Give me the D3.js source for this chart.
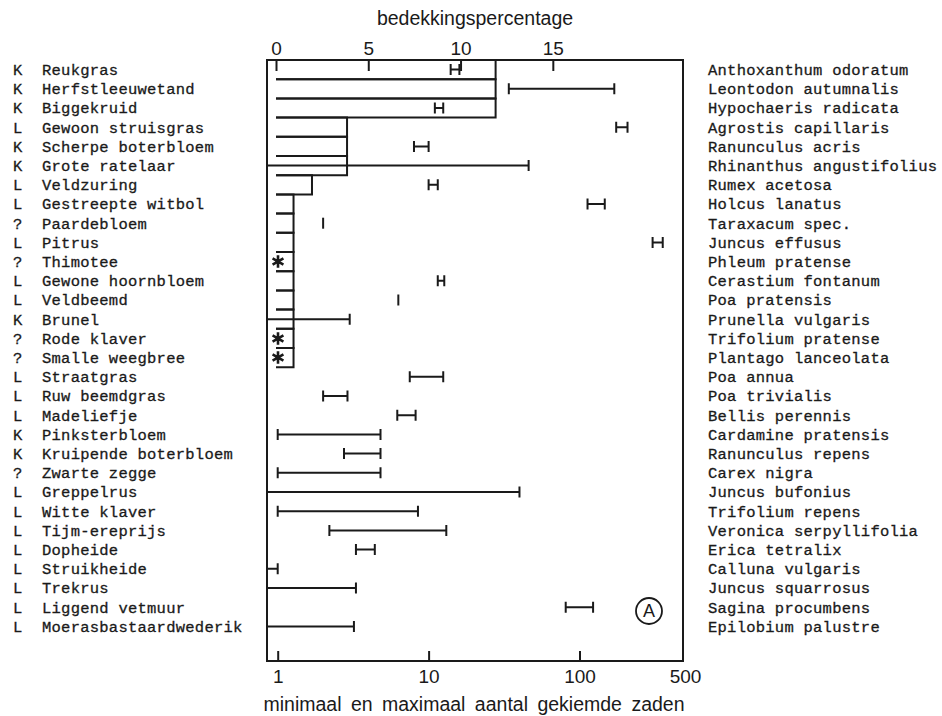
<!DOCTYPE html>
<html>
<head>
<meta charset="utf-8">
<script src="https://cdn.jsdelivr.net/npm/d3@7"></script>
<style>
  body { margin: 0; background: #fff; }
  svg { display: block; }
  .mono { font-family: "Liberation Mono", "Courier New", monospace; font-size: 15.5px; letter-spacing: 0.25px; fill: #1a1a1a; stroke: #1a1a1a; stroke-width: 0.3px; }
  .sans { font-family: "Liberation Sans", Arial, Helvetica, sans-serif; fill: #1a1a1a; }
</style>
</head>
<body>
<svg id="chart" width="942" height="716"></svg>
<script>
// letter code per species (K / L / ?)
const codes = ['K','K','K','L','K','K','L','L','?','L','?','L','L','K','?','?','L','L','L','K','K','?','L','L','L','L','L','L','L','L']

const dutchNames = [
  'Reukgras', 'Herfstleeuwetand', 'Biggekruid', 'Gewoon struisgras', 'Scherpe boterbloem',
  'Grote ratelaar', 'Veldzuring', 'Gestreepte witbol', 'Paardebloem', 'Pitrus',
  'Thimotee', 'Gewone hoornbloem', 'Veldbeemd', 'Brunel', 'Rode klaver',
  'Smalle weegbree', 'Straatgras', 'Ruw beemdgras', 'Madeliefje', 'Pinksterbloem',
  'Kruipende boterbloem', 'Zwarte zegge', 'Greppelrus', 'Witte klaver', 'Tijm-ereprijs',
  'Dopheide', 'Struikheide', 'Trekrus', 'Liggend vetmuur', 'Moerasbastaardwederik',
]

const latinNames = [
  'Anthoxanthum odoratum', 'Leontodon autumnalis', 'Hypochaeris radicata', 'Agrostis capillaris', 'Ranunculus acris',
  'Rhinanthus angustifolius', 'Rumex acetosa', 'Holcus lanatus', 'Taraxacum spec.', 'Juncus effusus',
  'Phleum pratense', 'Cerastium fontanum', 'Poa pratensis', 'Prunella vulgaris', 'Trifolium pratense',
  'Plantago lanceolata', 'Poa annua', 'Poa trivialis', 'Bellis perennis', 'Cardamine pratensis',
  'Ranunculus repens', 'Carex nigra', 'Juncus bufonius', 'Trifolium repens', 'Veronica serpyllifolia',
  'Erica tetralix', 'Calluna vulgaris', 'Juncus squarrosus', 'Sagina procumbens', 'Epilobium palustre',
]

// bedekkingspercentage (0 = not present in vegetation)
const coverage = [11.9, 11.9, 11.9, 3.85, 3.85, 3.85, 1.95, 0.95, 0.95, 0.95,
  0.95, 0.95, 0.95, 0.95, 0.95, 0.95, 0, 0, 0, 0,
  0, 0, 0, 0, 0, 0, 0, 0, 0, 0]

// species marked with an asterisk inside the bar
const asterisk = ['Thimotee', 'Rode klaver', 'Smalle weegbree']

// min / max number of germinated seeds (null = none, 0 = runs off the left edge)
const seedMin = [14, 34, 11, 175, 8, 0, 10, 113, 2, 305,
  null, 11.5, 6.3, 0, null, null, 7.5, 2, 6.2, 1,
  2.75, 1, 0, 1, 2.2, 3.3, 0, 0, 81, 0]
const seedMax = [16, 170, 12.5, 208, 10, 46, 11.5, 147, 2, 356,
  null, 12.7, 6.3, 3, null, null, 12.5, 2.9, 8.2, 4.8,
  4.8, 4.8, 40, 8.5, 13.1, 4.4, 1, 3.3, 123, 3.2]

const coverageTicks = [0, 5, 10, 15]
const seedTicks = [1, 10, 100, 500]

const ink = '#1a1a1a'
const frame = { left: 267, right: 683, top: 60, bottom: 661 }
const rowH = 19.2

const svg = d3.select('#chart')

const y = d3.scaleBand()
  .domain(dutchNames)
  .range([frame.top, frame.top + rowH * dutchNames.length])

const xCover = d3.scaleLinear().domain([0, 22]).range([276, 682])
const xSeed = d3.scaleLog().domain([1, 500]).range([277.7, 685])

const rows = dutchNames.map((name, i) => ({
  name, code: codes[i], latin: latinNames[i], cover: coverage[i],
  min: seedMin[i], max: seedMax[i],
}))

// frame
svg.append('rect')
  .attr('x', frame.left).attr('y', frame.top)
  .attr('width', frame.right - frame.left).attr('height', frame.bottom - frame.top)
  .attr('fill', 'none').attr('stroke', ink).attr('stroke-width', 2)

// coverage bars: open boxes (top, right, bottom)
const bars = svg.append('g').attr('stroke', ink).attr('stroke-width', 2).attr('fill', 'none')
bars.selectAll('path')
  .data(rows.filter((d) => d.cover > 0))
  .join('path')
  .attr('d', (d) => {
    const x0 = xCover(0), x1 = xCover(d.cover)
    const y0 = y(d.name), y1 = y0 + y.bandwidth()
    return `M${x0},${y0}H${x1}V${y1}H${x0}`
  })

// asterisks
svg.append('g').selectAll('path')
  .data(rows.filter((d) => asterisk.includes(d.name)))
  .join('path')
  .attr('transform', (d) => `translate(${xCover(0) + 2},${y(d.name) + y.bandwidth() / 2})`)
  .attr('d', d3.symbol(d3.symbolAsterisk, 110))
  .attr('fill', 'none').attr('stroke', ink).attr('stroke-width', 2.6)

// seed ranges
const seedX = (v) => (v === 0 ? frame.left : xSeed(v))
const capH = 5.5
const whisk = svg.append('g').attr('stroke', ink).attr('stroke-width', 2).attr('fill', 'none')
whisk.selectAll('path')
  .data(rows.filter((d) => d.max != null))
  .join('path')
  .attr('d', (d) => {
    const cy = y(d.name) + y.bandwidth() / 2
    const x0 = seedX(d.min), x1 = seedX(d.max)
    let p = `M${x0},${cy}H${x1}M${x1},${cy - capH}V${cy + capH}`
    if (d.min > 0 && d.min !== d.max) p += `M${x0},${cy - capH}V${cy + capH}`
    return p
  })

// top axis (coverage)
const topAxis = svg.append('g')
  .attr('transform', `translate(0,${frame.top})`)
  .call(d3.axisTop(xCover).tickValues(coverageTicks).tickSize(-11).tickPadding(5))
topAxis.select('.domain').remove()
topAxis.selectAll('line').attr('stroke', ink).attr('stroke-width', 2)
topAxis.selectAll('text').attr('font-size', 19).attr('fill', ink)
  .attr('font-family', '"Liberation Sans", Arial, sans-serif')

// bottom axis (seeds, log)
const botAxis = svg.append('g')
  .attr('transform', `translate(0,${frame.bottom})`)
  .call(d3.axisBottom(xSeed).tickValues(seedTicks).tickFormat(d3.format('d')).tickSize(-10).tickPadding(9))
botAxis.select('.domain').remove()
botAxis.selectAll('line').attr('stroke', ink).attr('stroke-width', 2)
  .filter((d) => d === 500).remove() // sits on the frame edge
botAxis.selectAll('text').attr('font-size', 19).attr('fill', ink)
  .attr('font-family', '"Liberation Sans", Arial, sans-serif')

// axis titles
svg.append('text').attr('class', 'sans')
  .attr('x', 475).attr('y', 25).attr('text-anchor', 'middle').attr('font-size', 19.5)
  .text('bedekkingspercentage')
svg.append('text').attr('class', 'sans')
  .attr('x', 474).attr('y', 711).attr('text-anchor', 'middle').attr('font-size', 19.5)
  .attr('word-spacing', 4)
  .text('minimaal en maximaal aantal gekiemde zaden')

// row labels
const labels = svg.append('g').attr('class', 'mono')
const rowY = (d) => y(d.name) + y.bandwidth() / 2
labels.selectAll('text.code').data(rows).join('text').attr('class', 'code')
  .attr('x', 13).attr('y', rowY).attr('dy', '0.35em').text((d) => d.code)
labels.selectAll('text.dutch').data(rows).join('text').attr('class', 'dutch')
  .attr('x', 42).attr('y', rowY).attr('dy', '0.35em').text((d) => d.name)
labels.selectAll('text.latin').data(rows).join('text').attr('class', 'latin')
  .attr('x', 708).attr('y', rowY).attr('dy', '0.35em').text((d) => d.latin)

// panel marker
svg.append('circle').attr('cx', 649).attr('cy', 611).attr('r', 13)
  .attr('fill', 'none').attr('stroke', ink).attr('stroke-width', 1.8)
svg.append('text').attr('class', 'sans')
  .attr('x', 649).attr('y', 611).attr('dy', '0.36em').attr('text-anchor', 'middle').attr('font-size', 18)
  .text('A')
</script>
</body>
</html>
